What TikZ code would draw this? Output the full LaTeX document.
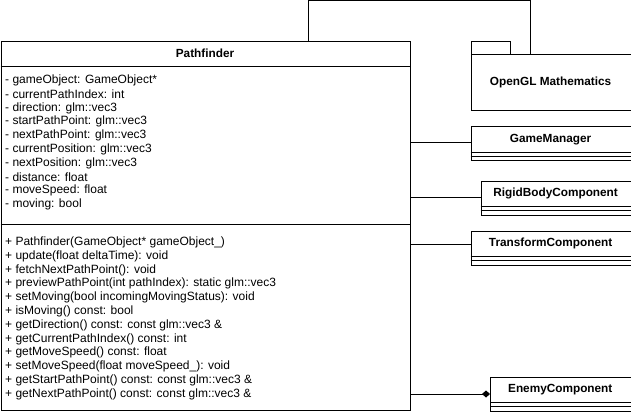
\documentclass[tikz,border=0pt]{standalone}
\usepackage{fontspec}
\setmainfont{Liberation Sans}
\usetikzlibrary{arrows.meta}
\begin{document}
\begin{tikzpicture}[x=1pt,y=-1pt,
  box/.style={draw=black,line width=0.9pt,rectangle,inner sep=0pt,anchor=north west},
  ttl/.style={font=\fontsize{11.8}{13}\selectfont\bfseries,inner sep=0pt},
  mem/.style={font=\fontsize{12}{13}\selectfont,inner sep=0pt,anchor=west},
  conn/.style={draw=black,line width=0.9pt}]
\useasboundingbox (0,0) rectangle (631,414);
% Pathfinder class
\node[box,minimum width=409.5pt,minimum height=369pt] (pf) at (0.5,40.75) {};
\coordinate (pfs1) at (0.5,66.5);
\coordinate (pfs2) at (0.5,224.5);
\draw[conn] (pfs1) -- (pfs1 -| pf.east);
\draw[conn] (pfs2) -- (pfs2 -| pf.east);
\node[ttl] (pft) at (205,53.6) {Pathfinder};
\foreach \t [count=\i from 0] in {
  - gameObject: GameObject*,
  - currentPathIndex: int,
  - direction: glm::vec3,
  - startPathPoint: glm::vec3,
  - nextPathPoint: glm::vec3,
  - currentPosition: glm::vec3,
  - nextPosition: glm::vec3,
  - distance: float,
  - moveSpeed: float,
  - moving: bool}
  \node[mem] (a\i) at (5,80.5+13.75*\i) {\t};
\foreach \t [count=\i from 0] in {
  + Pathfinder(GameObject* gameObject\_),
  + update(float deltaTime): void,
  + fetchNextPathPoint(): void,
  + previewPathPoint(int pathIndex): static glm::vec3,
  + setMoving(bool incomingMovingStatus): void,
  + isMoving() const: bool,
  + getDirection() const: const glm::vec3 \&,
  + getCurrentPathIndex() const: int,
  + getMoveSpeed() const: float,
  + setMoveSpeed(float moveSpeed\_): void,
  + getStartPathPoint() const: const glm::vec3 \&,
  + getNextPathPoint() const: const glm::vec3 \&}
  \node[mem] (m\i) at (5,242.3+13.82*\i) {\t};
% OpenGL Mathematics package
\node[box,minimum width=39.6pt,minimum height=13.3pt] (gltab) at (470.7,40.7) {};
\node[box,minimum width=159.8pt,minimum height=56pt] (gl) at (470.7,54) {};
\node[ttl] (glt) at (550.6,82) {OpenGL Mathematics};
% GameManager
\node[box,minimum width=159.8pt,minimum height=34pt] (gm) at (470.7,126.5) {};
\draw[conn] (470.7,152.5) -- (630.5,152.5);
\draw[conn] (470.7,156.5) -- (630.5,156.5);
\node[ttl] (gmt) at (550.6,139.5) {GameManager};
% RigidBodyComponent
\node[box,minimum width=149.8pt,minimum height=34pt] (rb) at (480.7,180.5) {};
\draw[conn] (480.7,206.5) -- (630.5,206.5);
\draw[conn] (480.7,210.5) -- (630.5,210.5);
\node[ttl] (rbt) at (555.6,193.5) {RigidBodyComponent};
% TransformComponent
\node[box,minimum width=159.8pt,minimum height=34pt] (tc) at (470.7,230.5) {};
\draw[conn] (470.7,256.5) -- (630.5,256.5);
\draw[conn] (470.7,260.5) -- (630.5,260.5);
\node[ttl] (tct) at (550.6,243.5) {TransformComponent};
% EnemyComponent
\node[box,minimum width=140.5pt,minimum height=34pt] (ec) at (490,376.5) {};
\draw[conn] (490,402.5) -- (630.5,402.5);
\draw[conn] (490,406.5) -- (630.5,406.5);
\node[ttl] (ect) at (560.25,389.5) {EnemyComponent};
% connectors
\coordinate (top1) at (308,0.5);
\coordinate (top2) at (530.3,0.5);
\draw[conn] (pf.north -| top1) -- (top1) -- (top2) -- (top2 |- gl.north);
\coordinate (ygm) at (0,142.7);
\coordinate (yrb) at (0,197.7);
\coordinate (ytc) at (0,244.3);
\coordinate (yec) at (0,394);
\draw[conn] (pf.east |- ygm) -- (gm.west |- ygm);
\draw[conn] (pf.east |- yrb) -- (rb.west |- yrb);
\draw[conn] (pf.east |- ytc) -- (tc.west |- ytc);
\draw[conn,-{Diamond[length=8pt,width=7pt]}] (pf.east |- yec) -- (ec.west |- yec);
\end{tikzpicture}
\end{document}
